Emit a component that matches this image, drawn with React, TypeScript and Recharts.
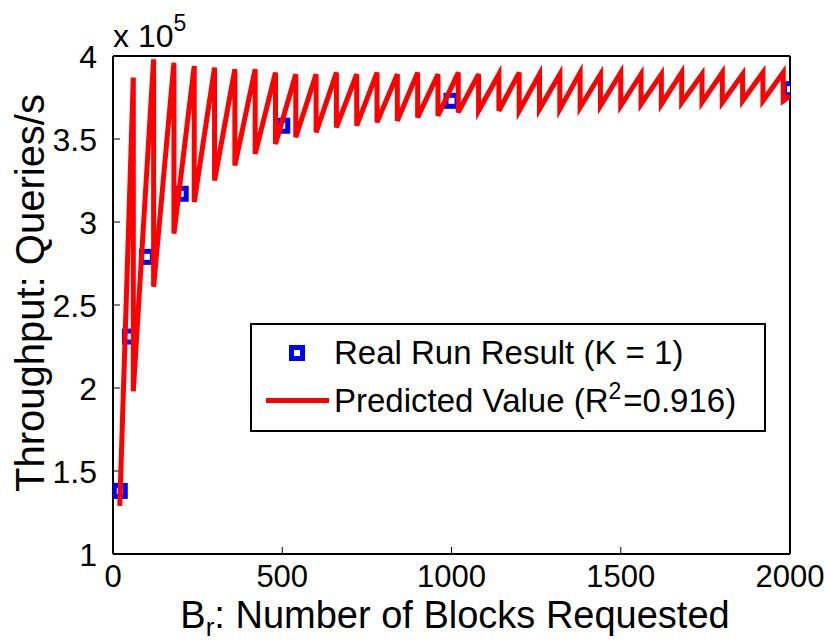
import React from "react";
import { ComposedChart, Line, Scatter, XAxis, YAxis, Legend } from "recharts";

const FONT = "'Liberation Sans', Arial, Helvetica, sans-serif";

// 軸の目盛
const xTicks = [0, 500, 1000, 1500, 2000];
const yTicks = [1, 1.5, 2, 2.5, 3, 3.5, 4];

// 実測値 (単位: x10^5 queries/s)
const realBlocks = [20, 50, 100, 200, 500, 1000, 2000];
const realThroughput = [1.38, 2.31, 2.79, 3.17, 3.58, 3.73, 3.8];

// 予測値: 鋸歯状。各段差の直前(peak)と直後(low)の値
const predStartBlock = 20;
const predStartValue = 1.29;
const dropBlocks = [
  60, 120, 180, 240, 300, 360, 420, 480, 540, 600, 660, 720, 780, 840, 900,
  960, 1020, 1080, 1140, 1200, 1260, 1320, 1380, 1440, 1500, 1560, 1620, 1680,
  1740, 1800, 1860, 1920, 1980,
];
const peakValues = [
  3.87, 3.98, 3.96, 3.94, 3.93, 3.92, 3.92, 3.9, 3.89, 3.89, 3.9, 3.89, 3.9,
  3.89, 3.9, 3.89, 3.9, 3.89, 3.89, 3.9, 3.89, 3.89, 3.9, 3.89, 3.9, 3.89,
  3.89, 3.9, 3.89, 3.9, 3.89, 3.9, 3.9,
];
const lowValues = [
  1.98, 2.61, 2.93, 3.12, 3.25, 3.34, 3.41, 3.47, 3.51, 3.54, 3.57, 3.58, 3.6,
  3.61, 3.63, 3.64, 3.66, 3.67, 3.67, 3.67, 3.68, 3.68, 3.69, 3.7, 3.7, 3.71,
  3.71, 3.72, 3.72, 3.72, 3.73, 3.73, 3.73,
];
const predEndBlock = 2000;
const predEndValue = 3.76;

const realData = realBlocks.map((b, i) => ({ b, v: realThroughput[i] }));

const predData: { b: number; v: number }[] = [
  { b: predStartBlock, v: predStartValue },
];
dropBlocks.forEach((b, i) => {
  predData.push({ b, v: peakValues[i] });
  predData.push({ b, v: lowValues[i] });
});
predData.push({ b: predEndBlock, v: predEndValue });

const XTick = (props: any) => {
  const { x, y, payload } = props;
  return (
    <text x={x} y={y} dy="0.72em" textAnchor="middle" fontSize={31} fontFamily={FONT} fill="#000">
      {payload.value}
    </text>
  );
};

const YTick = (props: any) => {
  const { x, y, payload } = props;
  return (
    <text x={x} y={y} dy="0.36em" textAnchor="end" fontSize={32} fontFamily={FONT} fill="#000">
      {payload.value}
    </text>
  );
};

const XTitle = () => (
  <text x={455} y={628} textAnchor="middle" fontSize={38} fontFamily={FONT} fill="#000">
    B<tspan dy={8} fontSize={26}>r</tspan>
    <tspan dy={-8}>: Number of Blocks Requested</tspan>
  </text>
);

const YTitle = () => (
  <text transform="translate(44,293) rotate(-90)" textAnchor="middle" fontSize={40} fontFamily={FONT} fill="#000">
    Throughput: Queries/s
  </text>
);

const Multiplier = () => (
  <text x={113} y={47} fontSize={32} fontFamily={FONT} fill="#000">
    x 10<tspan dy={-16} fontSize={23}>5</tspan>
  </text>
);

const SquareMarker = (props: any) => {
  const { cx, cy } = props;
  return (
    <rect x={cx - 5.5} y={cy - 5.5} width={11} height={11} fill="#fff" stroke="#0000ff" strokeWidth={5} />
  );
};

const LegendBox = () => (
  <div
    style={{
      position: "relative",
      width: 516,
      height: 109,
      border: "2px solid #000",
      boxSizing: "border-box",
      background: "#fff",
      fontFamily: FONT,
      fontSize: 33,
      color: "#000",
    }}
  >
    <div
      style={{
        position: "absolute",
        left: 37,
        top: 20,
        width: 16,
        height: 16,
        boxSizing: "border-box",
        border: "5px solid #0000ff",
        background: "#fff",
      }}
    />
    <span style={{ position: "absolute", left: 82, top: 9, lineHeight: "38px", whiteSpace: "nowrap" }}>
      Real Run Result (K = 1)
    </span>
    <div style={{ position: "absolute", left: 14, top: 73, width: 63, height: 5, background: "#ff0000" }} />
    <span style={{ position: "absolute", left: 82, top: 57, lineHeight: "38px", whiteSpace: "nowrap" }}>
      Predicted Value (R
      <span style={{ fontSize: 23, position: "relative", top: -13, marginLeft: 0, marginRight: 2 }}>2</span>
      =0.916)
    </span>
  </div>
);

export default function App() {
  const axisLine = { stroke: "#000", strokeWidth: 2 };
  const tickLine = { stroke: "#000", strokeWidth: 1 };
  return (
    <div style={{ position: "absolute", left: 0, top: 0, width: 830, height: 644, background: "#fff" }}>
      <ComposedChart width={830} height={644} margin={{ top: 55, right: 39, bottom: 0, left: 0 }}>
        <XAxis
          xAxisId="b"
          dataKey="b"
          type="number"
          domain={[0, 2000]}
          ticks={xTicks}
          interval={0}
          height={90}
          tickSize={-7}
          tickMargin={18}
          axisLine={axisLine}
          tickLine={tickLine}
          tick={<XTick />}
          label={<XTitle />}
          allowDataOverflow
        />
        <XAxis
          xAxisId="t"
          orientation="top"
          dataKey="b"
          type="number"
          domain={[0, 2000]}
          ticks={xTicks}
          interval={0}
          height={1}
          tickSize={-7}
          axisLine={axisLine}
          tickLine={tickLine}
          tick={false}
          label={<Multiplier />}
          allowDataOverflow
        />
        <YAxis
          yAxisId="l"
          dataKey="v"
          type="number"
          domain={[1, 4]}
          ticks={yTicks}
          interval={0}
          width={113}
          tickSize={-7}
          tickMargin={23}
          axisLine={axisLine}
          tickLine={tickLine}
          tick={<YTick />}
          label={<YTitle />}
          allowDataOverflow
        />
        <YAxis
          yAxisId="r"
          orientation="right"
          dataKey="v"
          type="number"
          domain={[1, 4]}
          ticks={yTicks}
          interval={0}
          width={1}
          tickSize={-7}
          axisLine={axisLine}
          tickLine={tickLine}
          tick={false}
          allowDataOverflow
        />
        <Legend
          layout="horizontal"
          verticalAlign="middle"
          align="center"
          content={() => <LegendBox />}
          wrapperStyle={{ left: 250, top: 323, width: 516, height: 109 }}
        />
        <Scatter
          name="Real Run Result (K = 1)"
          xAxisId="b"
          yAxisId="l"
          data={realData}
          dataKey="v"
          shape={SquareMarker}
          isAnimationActive={false}
        />
        <Line
          name="Predicted Value (R2=0.916)"
          xAxisId="b"
          yAxisId="l"
          data={predData}
          dataKey="v"
          type="linear"
          stroke="#ff0000"
          strokeWidth={5}
          dot={false}
          activeDot={false}
          isAnimationActive={false}
          zIndex={700}
        />
      </ComposedChart>
    </div>
  );
}
